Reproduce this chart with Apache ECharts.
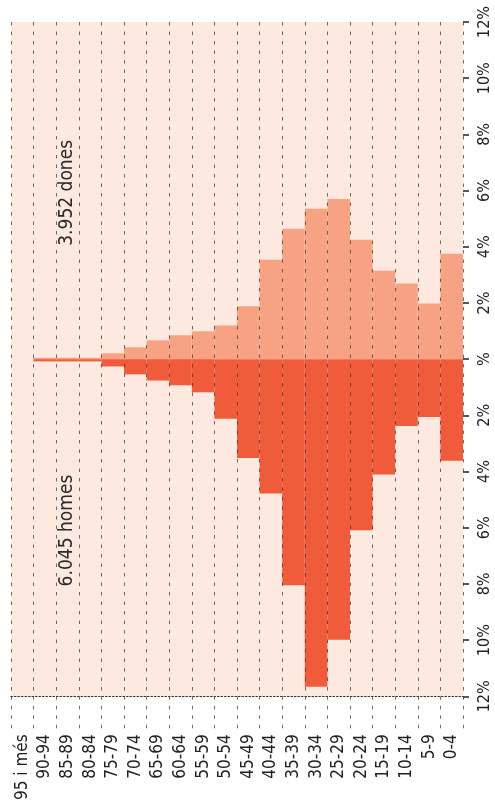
<!DOCTYPE html>
<html>
<head>
<meta charset="utf-8">
<script src="https://cdn.jsdelivr.net/npm/echarts@6/dist/echarts.min.js"></script>
<style>
  html, body { margin: 0; padding: 0; background: #fff; }
  #chart { width: 495px; height: 803px; }
</style>
</head>
<body>
<div id="chart"></div>
<script>
// grups d'edat, del més gran al més petit (esquerra a dreta)
const categories = ['95 i més', '90-94', '85-89', '80-84', '75-79', '70-74', '65-69', '60-64', '55-59',
  '50-54', '45-49', '40-44', '35-39', '30-34', '25-29', '20-24', '15-19', '10-14', '5-9', '0-4'];

// % sobre el total, llegit del gràfic
const dones = [0, 0.05, 0.05, 0.05, 0.21, 0.42, 0.67, 0.85, 0.99, 1.20, 1.88, 3.54, 4.64, 5.35, 5.70, 4.25, 3.15, 2.69, 1.98, 3.75];
const homes = [0, 0.08, 0.08, 0.08, 0.26, 0.54, 0.76, 0.93, 1.18, 2.12, 3.52, 4.78, 8.05, 11.66, 9.99, 6.09, 4.11, 2.38, 2.06, 3.62];

const yTicks = [-12, -10, -8, -6, -4, -2, 0, 2, 4, 6, 8, 10, 12];

const labelDones = '3.952 dones';
const labelHomes = '6.045 homes';

const FONT = '"Liberation Sans Narrow", "DejaVu Sans Condensed", Roboto, sans-serif';

const chart = echarts.init(document.getElementById('chart'));

const option = {
  animation: false,
  grid: {
    left: 11, right: 32, top: 22, bottom: 103,
    show: true, backgroundColor: '#fde9df', borderWidth: 0
  },
  xAxis: {
    type: 'category',
    data: categories,
    z: 5,
    axisLine: { show: true, onZero: false, lineStyle: { type: [1.5, 2], color: '#333', width: 1.2 } },
    axisTick: { show: true, length: 32, lineStyle: { type: [3.5, 6], color: 'rgba(60,45,40,0.7)' } },
    axisLabel: { rotate: 90, margin: 38, color: '#222', fontSize: 17, fontFamily: FONT, interval: 0 },
    splitLine: { show: true, lineStyle: { type: [3.5, 6], color: 'rgba(60,45,40,0.7)', width: 1 } }
  },
  yAxis: {
    type: 'value',
    position: 'right',
    min: -12, max: 12, interval: 2,
    axisLine: { show: false },
    axisTick: { show: true, length: 6, lineStyle: { color: '#222', width: 1.5 } },
    splitLine: { show: false },
    axisLabel: {
      rotate: 90, margin: 14, color: '#222', fontSize: 16, fontFamily: FONT,
      formatter: v => (yTicks.includes(v) ? (v === 0 ? '%' : Math.abs(v) + '%') : '')
    }
  },
  series: [
    {
      name: 'dones', type: 'bar', stack: 'pob',
      data: dones,
      barCategoryGap: 0,
      itemStyle: { color: '#f7a383' }
    },
    {
      name: 'homes', type: 'bar', stack: 'pob',
      data: homes.map(v => -v),
      barCategoryGap: 0,
      itemStyle: { color: '#f05b3c' }
    }
  ]
};

chart.setOption(option);

// anotacions girades, posades a partir de les escales
const pD = chart.convertToPixel({ xAxisIndex: 0, yAxisIndex: 0 }, ['85-89', 5.92]);
const pH = chart.convertToPixel({ xAxisIndex: 0, yAxisIndex: 0 }, ['85-89', -6.1]);

chart.setOption({
  graphic: [
    {
      type: 'text', x: pD[0], y: pD[1], rotation: Math.PI / 2, z: 10,
      style: { text: labelDones, fill: '#2a2a2a', font: '19px ' + FONT, textAlign: 'center', textVerticalAlign: 'middle' }
    },
    {
      type: 'text', x: pH[0], y: pH[1], rotation: Math.PI / 2, z: 10,
      style: { text: labelHomes, fill: '#2a2a2a', font: '19px ' + FONT, textAlign: 'center', textVerticalAlign: 'middle' }
    }
  ]
});
</script>
</body>
</html>
